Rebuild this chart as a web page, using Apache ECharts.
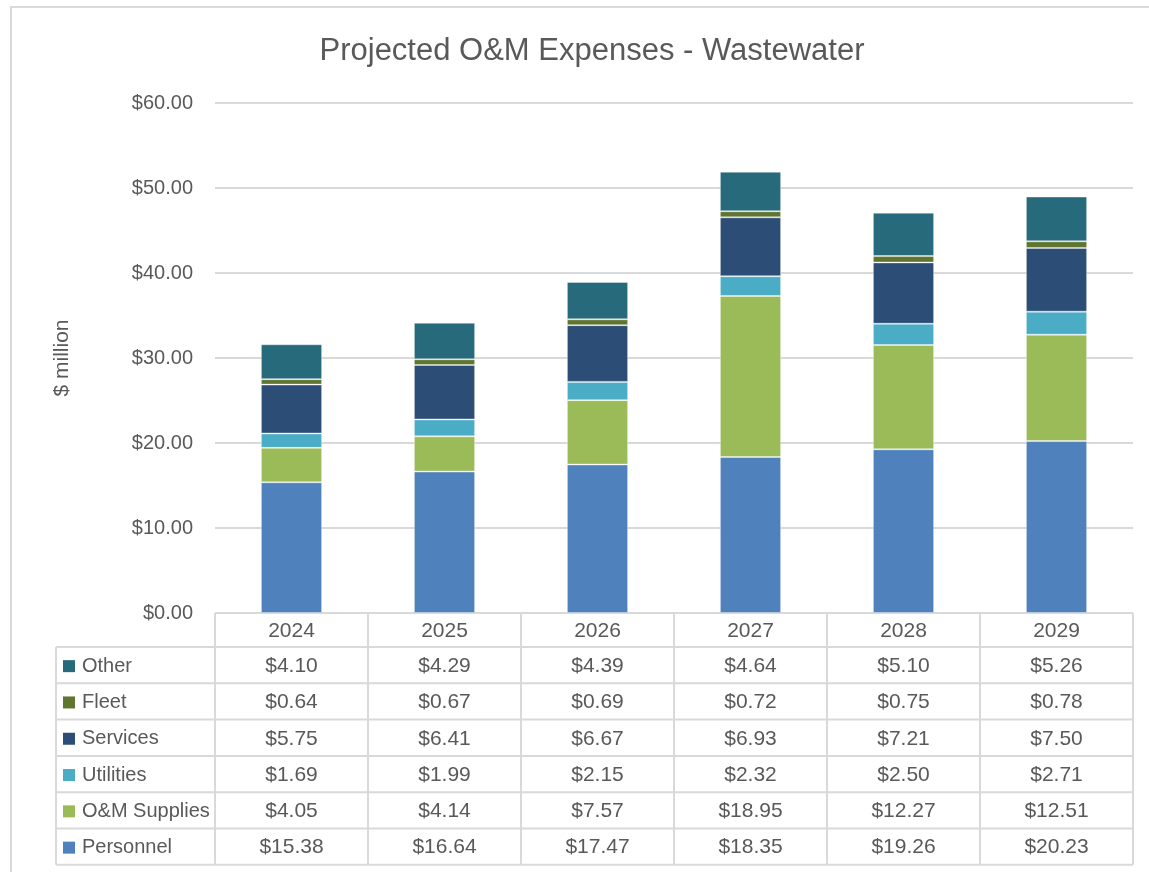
<!DOCTYPE html>
<html>
<head>
<meta charset="utf-8">
<script src="https://cdn.jsdelivr.net/npm/echarts@6/dist/echarts.min.js"></script>
<style>
  html, body { margin: 0; padding: 0; background: #fff; }
  #main { width: 1149px; height: 872px; }
</style>
</head>
<body>
<div id="main"></div>
<script>
var years = ['2024', '2025', '2026', '2027', '2028', '2029'];
var personnel = [15.38, 16.64, 17.47, 18.35, 19.26, 20.23];
var omSupplies = [4.05, 4.14, 7.57, 18.95, 12.27, 12.51];
var utilities = [1.69, 1.99, 2.15, 2.32, 2.50, 2.71];
var services = [5.75, 6.41, 6.67, 6.93, 7.21, 7.50];
var fleet = [0.64, 0.67, 0.69, 0.72, 0.75, 0.78];
var other = [4.10, 4.29, 4.39, 4.64, 5.10, 5.26];

var seriesNames = ['Personnel', 'O&M Supplies', 'Utilities', 'Services', 'Fleet', 'Other'];
var seriesData = [personnel, omSupplies, utilities, services, fleet, other];
var colors = ['#4f81bd', '#9bbb59', '#4bacc6', '#2c4d75', '#5f7530', '#276a7c'];

var font = '"Liberation Sans", Arial, sans-serif';
var textColor = '#595959';
var lineColor = '#d9d9d9';

// layout of plot + table underneath
var gridLeft = 215, gridRight = 1133, gridTop = 103, gridBottom = 613;
var headerH = 34, rowH = 36.3, labelLeft = 56;

var myChart = echarts.init(document.getElementById('main'), null, { renderer: 'canvas' });

function buildTable() {
    var g = [];
    var colW = (gridRight - gridLeft) / years.length;
    var rowsTop = gridBottom + headerH;
    var nRows = seriesNames.length;
    var tableBottom = rowsTop + rowH * nRows;

    // outer chart border
    g.push({ type: 'rect', shape: { x: 11, y: 7, width: 1160, height: 900 },
        style: { fill: 'none', stroke: lineColor, lineWidth: 2 }, silent: true });

    // vertical lines
    for (var i = 0; i <= years.length; i++) {
        var x = gridLeft + i * colW;
        g.push({ type: 'line', shape: { x1: x, y1: gridBottom, x2: x, y2: tableBottom },
            style: { stroke: lineColor, lineWidth: 2 }, silent: true });
    }
    g.push({ type: 'line', shape: { x1: labelLeft, y1: rowsTop, x2: labelLeft, y2: tableBottom },
        style: { stroke: lineColor, lineWidth: 2 }, silent: true });
    // horizontal lines
    g.push({ type: 'line', shape: { x1: gridLeft, y1: gridBottom, x2: gridRight, y2: gridBottom },
        style: { stroke: lineColor, lineWidth: 2 }, silent: true });
    for (var r = 0; r <= nRows; r++) {
        var y = rowsTop + r * rowH;
        g.push({ type: 'line', shape: { x1: labelLeft, y1: y, x2: gridRight, y2: y },
            style: { stroke: lineColor, lineWidth: 2 }, silent: true });
    }
    // year headers
    years.forEach(function (yr, i) {
        g.push({ type: 'text', x: gridLeft + (i + 0.5) * colW, y: gridBottom + headerH / 2 + 1,
            style: { text: yr, fill: textColor, font: '21px ' + font, align: 'center', verticalAlign: 'middle' }, silent: true });
    });
    // rows, top row is the last series (Other)
    for (var r = 0; r < nRows; r++) {
        var si = nRows - 1 - r;
        var cy = rowsTop + (r + 0.5) * rowH + 1;
        g.push({ type: 'rect', shape: { x: 63, y: cy - 6, width: 12, height: 12 },
            style: { fill: colors[si] }, silent: true });
        g.push({ type: 'text', x: 82, y: cy,
            style: { text: seriesNames[si], fill: textColor, font: '20px ' + font, align: 'left', verticalAlign: 'middle' }, silent: true });
        seriesData[si].forEach(function (v, i) {
            g.push({ type: 'text', x: gridLeft + (i + 0.5) * colW, y: cy,
                style: { text: '$' + v.toFixed(2), fill: textColor, font: '21px ' + font, align: 'center', verticalAlign: 'middle' }, silent: true });
        });
    }
    return g;
}

var option = {
    backgroundColor: '#fff',
    animation: false,
    title: {
        text: 'Projected O&M Expenses - Wastewater',
        left: 587, top: 31, textAlign: 'center',
        textStyle: { fontFamily: font, fontSize: 31, fontWeight: 'normal', color: textColor }
    },
    grid: {
        left: gridLeft, right: 1149 - gridRight, top: gridTop, bottom: 872 - gridBottom,
        containLabel: false
    },
    xAxis: {
        type: 'category',
        data: years,
        axisLine: { show: false },
        axisTick: { show: false },
        axisLabel: { show: false }
    },
    yAxis: {
        type: 'value',
        min: 0, max: 60, interval: 10,
        name: '$ million',
        nameLocation: 'middle',
        nameGap: 142,
        nameRotate: 90,
        nameTextStyle: { fontFamily: font, fontSize: 21, color: textColor },
        axisLine: { show: false },
        axisTick: { show: false },
        axisLabel: {
            fontFamily: font, fontSize: 20, color: textColor, margin: 22,
            formatter: function (v) { return '$' + v.toFixed(2); }
        },
        splitLine: { lineStyle: { color: lineColor, width: 2 } }
    },
    series: seriesNames.map(function (name, i) {
        return {
            name: name,
            type: 'bar',
            stack: 'total',
            barWidth: '40%',
            data: seriesData[i],
            itemStyle: { color: colors[i], borderColor: 'rgba(255,255,255,0.35)', borderWidth: 1 }
        };
    }),
    graphic: buildTable()
};

myChart.setOption(option);
</script>
</body>
</html>
